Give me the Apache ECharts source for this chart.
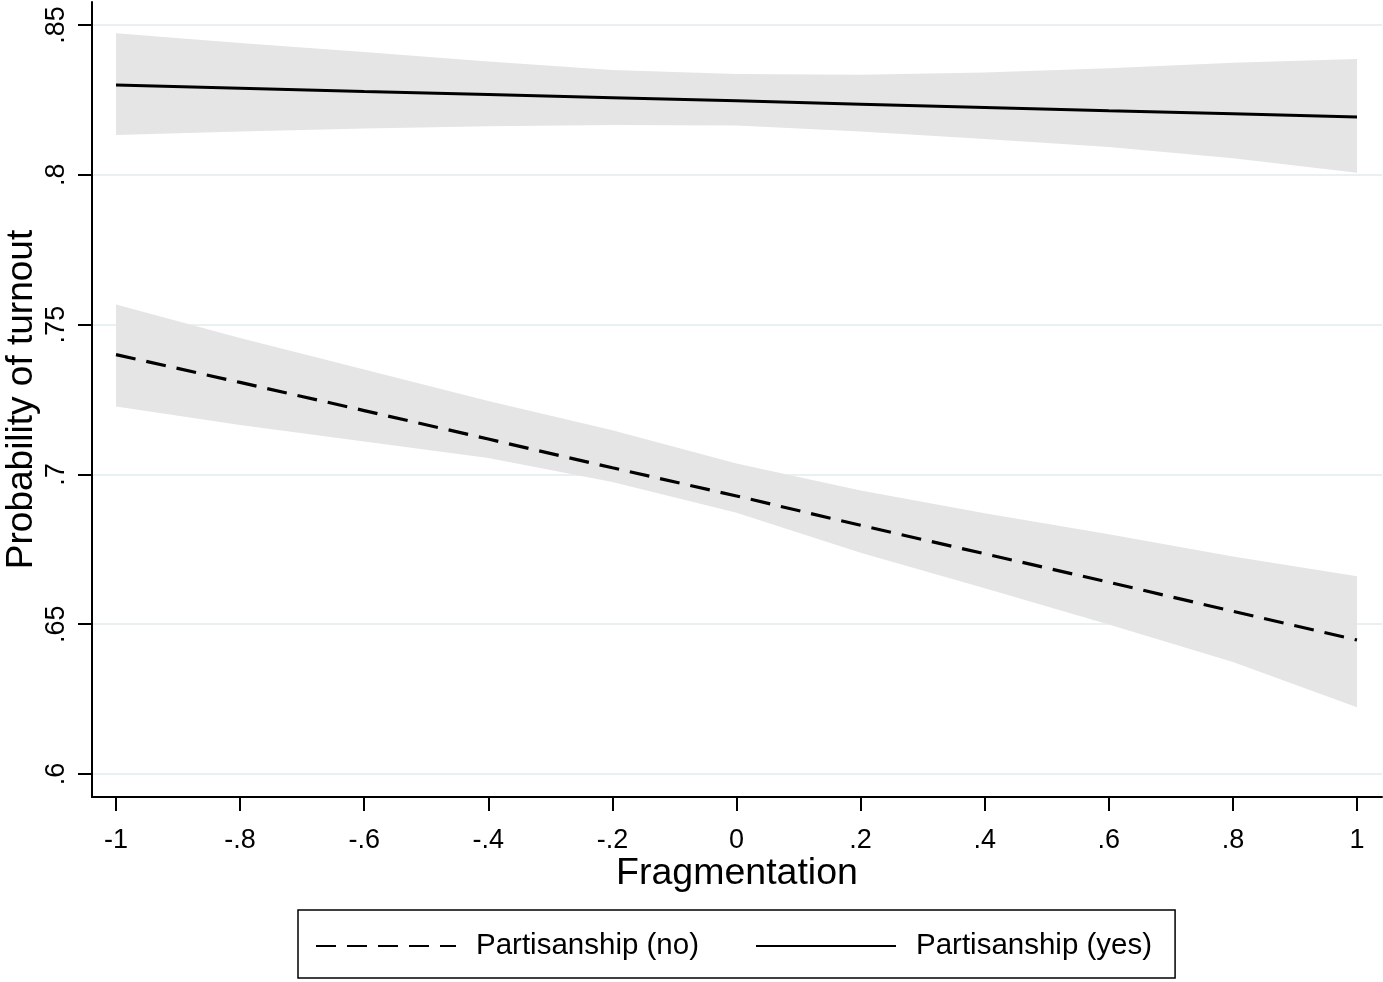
<!DOCTYPE html>
<html>
<head>
<meta charset="utf-8">
<script src="https://cdn.jsdelivr.net/npm/echarts@6/dist/echarts.min.js"></script>
<style>html,body{margin:0;padding:0;background:#fff}#c{width:1383px;height:982px}</style>
</head>
<body>
<div id="c"></div>
<script>
const fragmentation = [-1, -0.8, -0.6, -0.4, -0.2, 0, 0.2, 0.4, 0.6, 0.8, 1];
const noFit   = [0.740, 0.7307, 0.7213, 0.7118, 0.7022, 0.6928, 0.6830, 0.6735, 0.6640, 0.6543, 0.6447];
const noLower = [0.7227, 0.7165, 0.7110, 0.7055, 0.6975, 0.6872, 0.6738, 0.6620, 0.6499, 0.6374, 0.6223];
const noUpper = [0.7567, 0.7455, 0.7350, 0.7245, 0.7147, 0.7036, 0.6946, 0.6870, 0.6800, 0.6726, 0.6660];
const yesFit   = [0.8300, 0.8289, 0.8278, 0.8268, 0.8257, 0.8247, 0.8236, 0.8225, 0.8214, 0.8204, 0.8193];
const yesLower = [0.8133, 0.8145, 0.8155, 0.8162, 0.8166, 0.8165, 0.8145, 0.8120, 0.8093, 0.8055, 0.8007];
const yesUpper = [0.8473, 0.8440, 0.8410, 0.8378, 0.8350, 0.8337, 0.8334, 0.8342, 0.8356, 0.8374, 0.8387];
const xTickValues = [-1, -0.8, -0.6, -0.4, -0.2, 0, 0.2, 0.4, 0.6, 0.8, 1];
const xTickLabels = ['-1', '-.8', '-.6', '-.4', '-.2', '0', '.2', '.4', '.6', '.8', '1'];
const yTickValues = [0.6, 0.65, 0.7, 0.75, 0.8, 0.85];
const yTickLabels = ['.6', '.65', '.7', '.75', '.8', '.85'];
const seriesNames = ['Partisanship (no)', 'Partisanship (yes)'];

function pairs(ys) { return fragmentation.map((x, i) => [x, ys[i]]); }
function bandData(lo, up) { return fragmentation.map((x, i) => [x, lo[i], up[i]]); }
function lab(values, labels) {
  return v => { const i = values.findIndex(t => Math.abs(t - v) < 1e-9); return i >= 0 ? labels[i] : ''; };
}
const FONT = '"Liberation Sans", Arial, sans-serif';
const bandColor = '#e5e5e5';

function bandRender(lo, up) {
  return function (params, api) {
    if (params.dataIndex !== 0) return null;
    const top = fragmentation.map((x, i) => api.coord([x, up[i]]));
    const bot = fragmentation.map((x, i) => api.coord([x, lo[i]])).reverse();
    return {
      type: 'polygon',
      shape: {points: top.concat(bot)},
      style: {fill: bandColor, stroke: null}
    };
  };
}

const chart = echarts.init(document.getElementById('c'), null, {renderer: 'canvas'});
chart.setOption({
  animation: false,
  backgroundColor: '#fff',
  grid: {left: 92, right: 1, top: 2, bottom: 185, containLabel: false, outerBoundsMode: 'none'},
  xAxis: {
    type: 'value', min: -1.0387, max: 1.0403,
    name: 'Fragmentation', nameLocation: 'middle', nameGap: 58, nameMoveOverlap: false,
    nameTextStyle: {fontFamily: FONT, fontSize: 37.5, color: '#000'},
    axisLine: {show: true, onZero: false, lineStyle: {color: '#000', width: 2}},
    axisTick: {show: true, length: 14, lineStyle: {color: '#000', width: 2}, customValues: xTickValues},
    axisLabel: {customValues: xTickValues, formatter: lab(xTickValues, xTickLabels), fontFamily: FONT, fontSize: 27, color: '#000', margin: 30},
    splitLine: {show: false}
  },
  yAxis: {
    type: 'value', min: 0.5923, max: 0.8577,
    name: 'Probability of turnout', nameLocation: 'middle', nameGap: 52, nameMoveOverlap: false,
    nameTextStyle: {fontFamily: FONT, fontSize: 37, color: '#000'},
    axisLine: {show: true, onZero: false, lineStyle: {color: '#000', width: 2}},
    axisTick: {show: true, length: 14, lineStyle: {color: '#000', width: 2}, customValues: yTickValues},
    axisLabel: {customValues: yTickValues, formatter: lab(yTickValues, yTickLabels), rotate: 90, fontFamily: FONT, fontSize: 27, color: '#000', margin: 22},
    splitLine: {show: true, lineStyle: {color: '#e8f0f2', width: 2}}
  },
  legend: {
    data: seriesNames,
    left: 298, top: 910,
    padding: [21, 23, 17, 17],
    itemGap: 56, itemWidth: 140, itemHeight: 30,
    borderColor: '#000', borderWidth: 1.5, borderRadius: 0,
    itemStyle: {opacity: 0, borderWidth: 0},
    textStyle: {fontFamily: FONT, fontSize: 29.5, color: '#000', padding: [0, 0, 0, 15]},
    selectedMode: false
  },
  series: [
    {name: 'noBand', type: 'custom', data: bandData(noLower, noUpper), renderItem: bandRender(noLower, noUpper),
      encode: {x: 0, y: [1, 2]}, silent: true, z: 1},
    {name: 'yesBand', type: 'custom', data: bandData(yesLower, yesUpper), renderItem: bandRender(yesLower, yesUpper),
      encode: {x: 0, y: [1, 2]}, silent: true, z: 1},
    {name: seriesNames[0], type: 'line', data: pairs(noFit), symbol: 'none', z: 5,
      itemStyle: {color: '#000'}, lineStyle: {color: '#000', width: 3.2, type: [20, 11]}},
    {name: seriesNames[1], type: 'line', data: pairs(yesFit), symbol: 'none', z: 5,
      itemStyle: {color: '#000'}, lineStyle: {color: '#000', width: 3, type: 'solid'}}
  ]
});
</script>
</body>
</html>
